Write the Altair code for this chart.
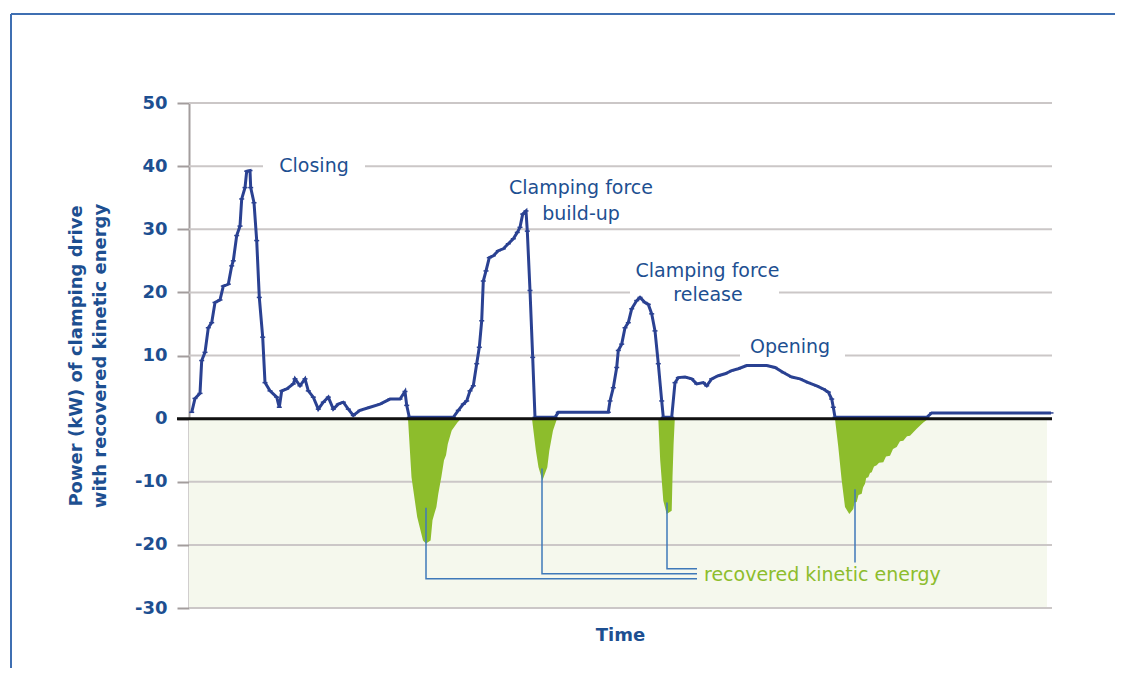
import altair as alt
import pandas as pd

# ---------------- data ----------------
# blue power curve: time (arbitrary units), power (kW)
line_t = [2.7, 6, 11, 12.7, 16, 19.3, 22.7, 26, 31, 34.3, 39.3, 42.7, 44.3, 47.7, 51, 52.7, 56, 57.7, 61,
          61.7, 65, 67.7, 70.3, 73.7, 76, 81, 87.7, 90.3, 92.7, 97.7, 104.3, 106, 111, 116, 119.3, 124.3,
          129.3, 134.3, 139.3, 144.3, 149.3, 154.3, 159.3, 164.3, 171, 181, 191, 201, 211, 216, 217.7, 220.3,
          264.3, 269.3, 274.3, 277.7, 281, 284.3, 287.7, 290.3, 292.7, 294.3, 297, 300.3, 304.3, 309.3,
          314.3, 319.3, 324.3, 328.3, 331, 333.7, 337, 338.3, 341, 343.7, 346,
          366, 369.3, 419.3, 421, 424.3, 427.7, 429.3, 432.7, 436, 439.3, 442.7, 447.7, 451, 456, 459.3,
          462.7, 466, 469.3, 472.7, 474.3,
          482.7, 486, 489.3, 496, 502.7, 507.7, 514.3, 517.7, 522.7, 529.3, 536, 542.7, 549.3, 557.7,
          567.7, 577.7, 586, 594.3, 602.7, 611, 619.3, 627.7, 634.3, 639.3, 642.7, 644.3, 646,
          737.7, 742.7, 760, 790, 820, 850, 862]
line_p = [1.0, 3.2, 4.0, 9.2, 10.5, 14.4, 15.2, 18.4, 18.8, 21.0, 21.3, 24.2, 25.0, 29.0, 30.5, 34.8, 36.6, 39.2, 39.3,
          36.6, 34.2, 28.2, 19.2, 12.9, 5.7, 4.4, 3.4, 1.8, 4.4, 4.7, 5.5, 6.3, 5.2, 6.3, 4.4, 3.4,
          1.5, 2.6, 3.4, 1.5, 2.3, 2.6, 1.5, 0.5, 1.3, 1.8, 2.3, 3.1, 3.1, 4.3, 2.1, 0.2,
          0.2, 1.3, 2.3, 2.8, 4.4, 5.2, 8.7, 11.3, 15.5, 21.8, 23.4, 25.5, 25.8, 26.6,
          26.9, 27.7, 28.5, 29.5, 30.3, 32.4, 32.9, 29.7, 20.3, 9.7, 0.2,
          0.2, 1.0, 1.0, 2.8, 4.9, 8.1, 10.8, 11.8, 14.4, 15.2, 17.4, 18.7, 19.2, 18.4, 18.1,
          16.6, 13.9, 8.7, 2.8, 0.2,
          0.2, 5.7, 6.5, 6.6, 6.3, 5.5, 5.7, 5.2, 6.3, 6.8, 7.1, 7.6, 7.9, 8.4,
          8.4, 8.4, 8.1, 7.3, 6.6, 6.3, 5.7, 5.2, 4.7, 4.2, 3.1, 1.8, 0.2,
          0.2, 0.9, 0.9, 0.9, 0.9, 0.9, 0.9]

# recovered kinetic energy (negative power), four episodes
rec1_t = [219, 222.5, 228.2, 234, 237, 241.6, 243.5, 245.5, 247.4, 249.3, 252.3, 255, 257, 258.8, 262.7, 268.4, 272]
rec1_p = [0, -9.3, -15.6, -19.3, -19.8, -19.3, -16.1, -15.0, -14.0, -11.9, -9.3, -6.6, -5.8, -4.0, -1.9, -0.6, 0]
rec2_t = [343, 346.9, 349.5, 353.4, 358.3, 360.3, 364, 368]
rec2_p = [0, -5.1, -7.7, -9.8, -7.7, -5.1, -1.9, 0]
rec3_t = [469.3, 471.2, 474.3, 477.7, 482.7, 483.5, 484.6, 485.8]
rec3_p = [0, -6.6, -13.0, -15.1, -14.6, -9.3, -4.0, 0]
rec4_t = [646, 649.3, 652.7, 656, 660.3, 664.3, 665.5, 667.7, 669.5, 672.7, 674, 676, 677.2, 679.3, 681,
          682.7, 685, 687.7, 690, 694.3, 697, 701, 704, 707.7, 711, 714.3, 718, 721, 727.7, 734.3, 739.3]
rec4_p = [0, -4.5, -9.8, -14.0, -15.1, -14.3, -13.3, -13.2, -12.1, -11.9, -10.9, -10.3, -9.4, -9.3, -8.6,
          -8.5, -7.6, -7.4, -7.0, -6.9, -6.0, -5.9, -4.8, -4.5, -3.6, -3.5, -2.8, -2.7, -1.6, -0.6, 0]

y_ticks = [-30, -20, -10, 0, 10, 20, 30, 40, 50]

ann_text = ["Closing", "Clamping force", "build-up", "Clamping force", "release", "Opening"]
ann_t = [125, 392, 392, 518.5, 519, 601]
ann_p = [40, 36.55, 32.4, 23.4, 19.6, 11.4]

# knock-outs of the gridlines behind the labels
gap_t1 = [74, 441, 551]
gap_t2 = [176, 590, 656]
gap_p = [40, 20, 10]

# leader lines to "recovered kinetic energy"
lead_id = [1, 1, 1, 2, 2, 2, 3, 3, 3, 4, 4]
lead_i = [0, 1, 2, 0, 1, 2, 0, 1, 2, 0, 1]
lead_t = [237, 237, 508, 353, 353, 508, 478, 478, 508, 666, 666]
lead_p = [-14.1, -25.37, -25.37, -7.9, -24.58, -24.58, -13.3, -23.79, -23.79, -11.2, -22.8]

rec_label = "recovered kinetic energy"
rec_label_t = 515
rec_label_p = -24.7

# ---------------- styling ----------------
FONT = "DejaVu Sans"
TXT = "#1d4f91"
BLUE = "#2a4192"
GREEN = "#8dbd2c"
W, H = 862, 505

xs = alt.Scale(domain=[0, 862], nice=False, zero=False)
ys = alt.Scale(domain=[-30, 50], nice=False, zero=False)

rec_frames = []
for k, (tt, pp) in enumerate([(rec1_t, rec1_p), (rec2_t, rec2_p), (rec3_t, rec3_p), (rec4_t, rec4_p)], start=1):
    rec_frames.append(pd.DataFrame({"seg": k, "t": tt, "p": pp}))
rec_df = pd.concat(rec_frames, ignore_index=True)

line_df = pd.DataFrame({"t": line_t, "p": line_p})
grid_df = pd.DataFrame({"p": y_ticks})
ann_df = pd.DataFrame({"text": ann_text, "t": ann_t, "p": ann_p})
gap_df = pd.DataFrame({"t1": gap_t1, "t2": gap_t2, "p1": [v - 0.6 for v in gap_p], "p2": [v + 0.6 for v in gap_p]})
lead_df = pd.DataFrame({"id": lead_id, "i": lead_i, "t": lead_t, "p": lead_p})
lab_df = pd.DataFrame({"text": [rec_label], "t": [rec_label_t], "p": [rec_label_p]})
neg_df = pd.DataFrame({"t1": [0], "t2": [858], "p1": [-30], "p2": [0]})

yaxis = alt.Axis(values=y_ticks, grid=False, domainColor="#a39d9d", domainWidth=2,
                 tickColor="#a39d9d", tickWidth=2, tickSize=12, labelPadding=10,
                 labelFont=FONT, labelFontSize=18, labelColor=TXT, labelFontWeight="bold",
                 labelExpr="'' + datum.value",
                 title=["Power (kW) of clamping drive", "with recovered kinetic energy"],
                 titleFont=FONT, titleFontSize=18, titleColor=TXT, titleFontWeight="bold",
                 titleAngle=270, titleX=-113, titleY=252.5, titleBaseline="middle",
                 titleAlign="center", titleLineHeight=24)
xaxis = alt.Axis(labels=False, ticks=False, domain=False, grid=False, title="Time",
                 titleFont=FONT, titleFontSize=18, titleColor=TXT, titleFontWeight="bold",
                 titlePadding=18)

neg_bg = alt.Chart(neg_df).mark_rect(color="#f5f8ed").encode(
    x=alt.X("t1:Q", scale=xs, axis=xaxis), x2="t2:Q",
    y=alt.Y("p1:Q", scale=ys, axis=yaxis), y2="p2:Q")

grid = alt.Chart(grid_df).mark_rule(color="#cbc7c7", strokeWidth=2).encode(
    y=alt.Y("p:Q", scale=ys), x=alt.value(0), x2=alt.value(W + 1))

gaps = alt.Chart(gap_df).mark_rect(color="white").encode(
    x=alt.X("t1:Q", scale=xs), x2="t2:Q", y=alt.Y("p1:Q", scale=ys), y2="p2:Q")

areas = alt.Chart(rec_df).mark_area(color=GREEN, opacity=1).encode(
    x=alt.X("t:Q", scale=xs), y=alt.Y("p:Q", scale=ys), detail="seg:N")

power = alt.Chart(line_df).mark_line(color=BLUE, strokeWidth=3).encode(
    x=alt.X("t:Q", scale=xs), y=alt.Y("p:Q", scale=ys))

marks = alt.Chart(line_df).mark_point(shape="M-1,0L1,0", size=25, color=BLUE, strokeWidth=1.5, filled=False,
                                      opacity=1).encode(
    x=alt.X("t:Q", scale=xs), y=alt.Y("p:Q", scale=ys))

zero = alt.Chart(grid_df).transform_filter("datum.p == 0").mark_rule(color="#111111", strokeWidth=3).encode(
    y=alt.Y("p:Q", scale=ys), x=alt.value(-12), x2=alt.value(W + 1))

leaders = alt.Chart(lead_df).mark_line(color="#3f79b9", strokeWidth=1.5).encode(
    x=alt.X("t:Q", scale=xs), y=alt.Y("p:Q", scale=ys), detail="id:N", order="i:Q")

ann = alt.Chart(ann_df).mark_text(font=FONT, fontSize=19, color=TXT, align="center", baseline="middle").encode(
    x=alt.X("t:Q", scale=xs), y=alt.Y("p:Q", scale=ys), text="text:N")

lab = alt.Chart(lab_df).mark_text(font=FONT, fontSize=19, color=GREEN, align="left", baseline="middle").encode(
    x=alt.X("t:Q", scale=xs), y=alt.Y("p:Q", scale=ys), text="text:N")

frame_top = alt.Chart(grid_df).transform_filter("datum.p == 0").mark_rule(color="#3f6fb2", strokeWidth=2).encode(
    x=alt.value(-178), x2=alt.value(W + 70), y=alt.value(-89))
frame_left = alt.Chart(grid_df).transform_filter("datum.p == 0").mark_rule(color="#3f6fb2", strokeWidth=2).encode(
    x=alt.value(-178), y=alt.value(-89), y2=alt.value(H + 60))

chart = alt.layer(neg_bg, grid, gaps, areas, power, marks, zero, leaders, ann, lab, frame_top, frame_left).properties(
    width=W, height=H,
    autosize=alt.AutoSizeParams(type="none"),
    padding={"left": 181, "top": 95, "right": 64, "bottom": 60},
    background="white",
).configure_view(stroke=None)

chart.save("out.html", embed_options={"renderer": "svg", "actions": False})
